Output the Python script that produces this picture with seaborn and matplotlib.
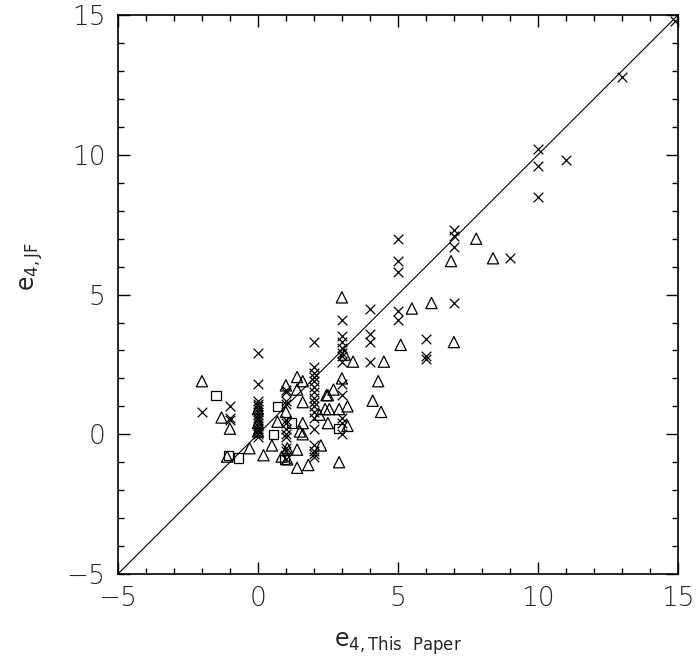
import matplotlib
matplotlib.use("Agg")
import matplotlib.pyplot as plt
import seaborn as sns
import pandas as pd
from matplotlib.ticker import MultipleLocator

# crosses
cross_x = [-2, -1, -1, -1,
           0, 0, 0, 0, 0, 0, 0, 0, 0, 0, 0, 0, 0, 0, 0, 0,
           1, 1, 1, 1, 1, 1, 1, 1, 1, 1, 1, 1,
           2, 2, 2, 2, 2, 2, 2, 2, 2, 2, 2, 2, 2, 2, 2, 2, 2,
           3, 3, 3, 3, 3, 3, 3, 3, 3, 3, 3, 3,
           4, 4, 4, 4,
           5, 5, 5, 5, 5,
           6, 6, 6,
           7, 7, 7, 7,
           9, 10, 10, 10, 11, 13, 14.9]
cross_y = [0.8, 1.0, 0.6, 0.5,
           2.9, 1.8, 1.2, 1.1, 1.0, 0.9, 0.8, 0.7, 0.6, 0.5, 0.4, 0.3, 0.2, 0.1, 0.0, -0.1,
           1.6, 1.5, 1.2, 1.1, 0.5, 0.4, 0.2, 0.0, -0.1, -0.5, -0.6, -0.9,
           3.3, 2.4, 2.2, 2.05, 1.9, 1.7, 1.5, 1.3, 1.15, 1.0, 0.8, 0.6, 0.2, -0.4, -0.6, -0.7, -0.8,
           4.1, 3.5, 3.3, 3.1, 2.9, 2.8, 2.6, 1.8, 1.4, 0.6, 0.4, 0.0,
           4.5, 3.6, 3.3, 2.6,
           7.0, 6.2, 5.8, 4.4, 4.1,
           3.4, 2.8, 2.7,
           7.3, 7.1, 6.7, 4.7,
           6.3, 10.2, 9.6, 8.5, 9.8, 12.8, 14.8]

# triangles
tri_x = [-2.0, -1.3, -1.0, -1.1, -0.3, 0.0, 0.0, 0.0, 0.2, 0.5, 0.7, 0.85,
         1.0, 1.0, 1.05, 1.05, 1.4, 1.4, 1.4, 1.4, 1.5, 1.6, 1.6, 1.6, 1.6, 1.8,
         2.2, 2.25, 2.4, 2.45, 2.5, 2.5, 2.55, 2.7, 2.9, 2.9,
         3.0, 3.0, 3.1, 3.2, 3.2, 3.4, 4.1, 4.3, 4.4, 4.5,
         5.1, 5.5, 6.2, 6.9, 7.0, 7.8, 8.4]
tri_y = [1.9, 0.6, 0.2, -0.8, -0.5, 0.9, 0.4, 0.1, -0.75, -0.4, 0.45, -0.8,
         1.75, 0.8, -0.5, -0.9, 2.05, 1.6, -0.55, -1.2, 0.1, 1.9, 1.15, 0.4, 0.0, -1.1,
         0.7, -0.4, 0.9, 1.4, 1.4, 0.4, 0.9, 1.6, 0.9, -1.0,
         4.9, 2.0, 2.85, 1.0, 0.3, 2.6, 1.2, 1.9, 0.8, 2.6,
         3.2, 4.5, 4.7, 6.2, 3.3, 7.0, 6.3]

# squares
sq_x = [-1.5, -1.05, -0.7, 0.55, 0.7, 0.95, 1.2, 2.9]
sq_y = [1.4, -0.75, -0.85, 0.0, 1.0, -0.9, 0.4, 0.2]

crosses = pd.DataFrame({"x": cross_x, "y": cross_y})
triangles = pd.DataFrame({"x": tri_x, "y": tri_y})
squares = pd.DataFrame({"x": sq_x, "y": sq_y})

sns.set_style("ticks")
plt.rcParams["font.family"] = ["DejaVu Sans"]
plt.rcParams["font.weight"] = "light"
plt.rcParams["mathtext.fontset"] = "dejavusans"

fig = plt.figure(figsize=(6.98, 6.62), dpi=100)
ax = fig.add_axes([0.169, 0.133, 0.802, 0.844])

ax.axline((0, 0), slope=1, color="black", linewidth=0.8, zorder=1)

sns.scatterplot(data=crosses, x="x", y="y", marker="x", s=48, color="black",
                linewidth=0.9, ax=ax, zorder=3)
sns.scatterplot(data=triangles, x="x", y="y", marker="^", s=65, facecolor="none",
                edgecolor="black", linewidth=0.9, ax=ax, zorder=3)
sns.scatterplot(data=squares, x="x", y="y", marker="s", s=45, facecolor="none",
                edgecolor="black", linewidth=0.9, ax=ax, zorder=3)

ax.set_xlim(-5, 15)
ax.set_ylim(-5, 15)
ax.xaxis.set_major_locator(MultipleLocator(5))
ax.yaxis.set_major_locator(MultipleLocator(5))
ax.xaxis.set_minor_locator(MultipleLocator(1))
ax.yaxis.set_minor_locator(MultipleLocator(1))
ax.tick_params(which="both", direction="in", top=True, right=True, color="black", width=1)
ax.tick_params(which="major", length=8.5, labelsize=19, pad=9)
ax.tick_params(which="minor", length=4.5)
for sp in ax.spines.values():
    sp.set_linewidth(1.2)
    sp.set_color("black")

ax.set_xlabel(r"$\mathregular{e_{4,This\ \ Paper}}$", fontsize=17)
ax.set_ylabel(r"$\mathregular{e_{4,JF}}$", fontsize=17)
ax.xaxis.set_label_coords(0.5, -0.1)
ax.yaxis.set_label_coords(-0.13, 0.55)

fig.savefig("out.png", dpi=100)
